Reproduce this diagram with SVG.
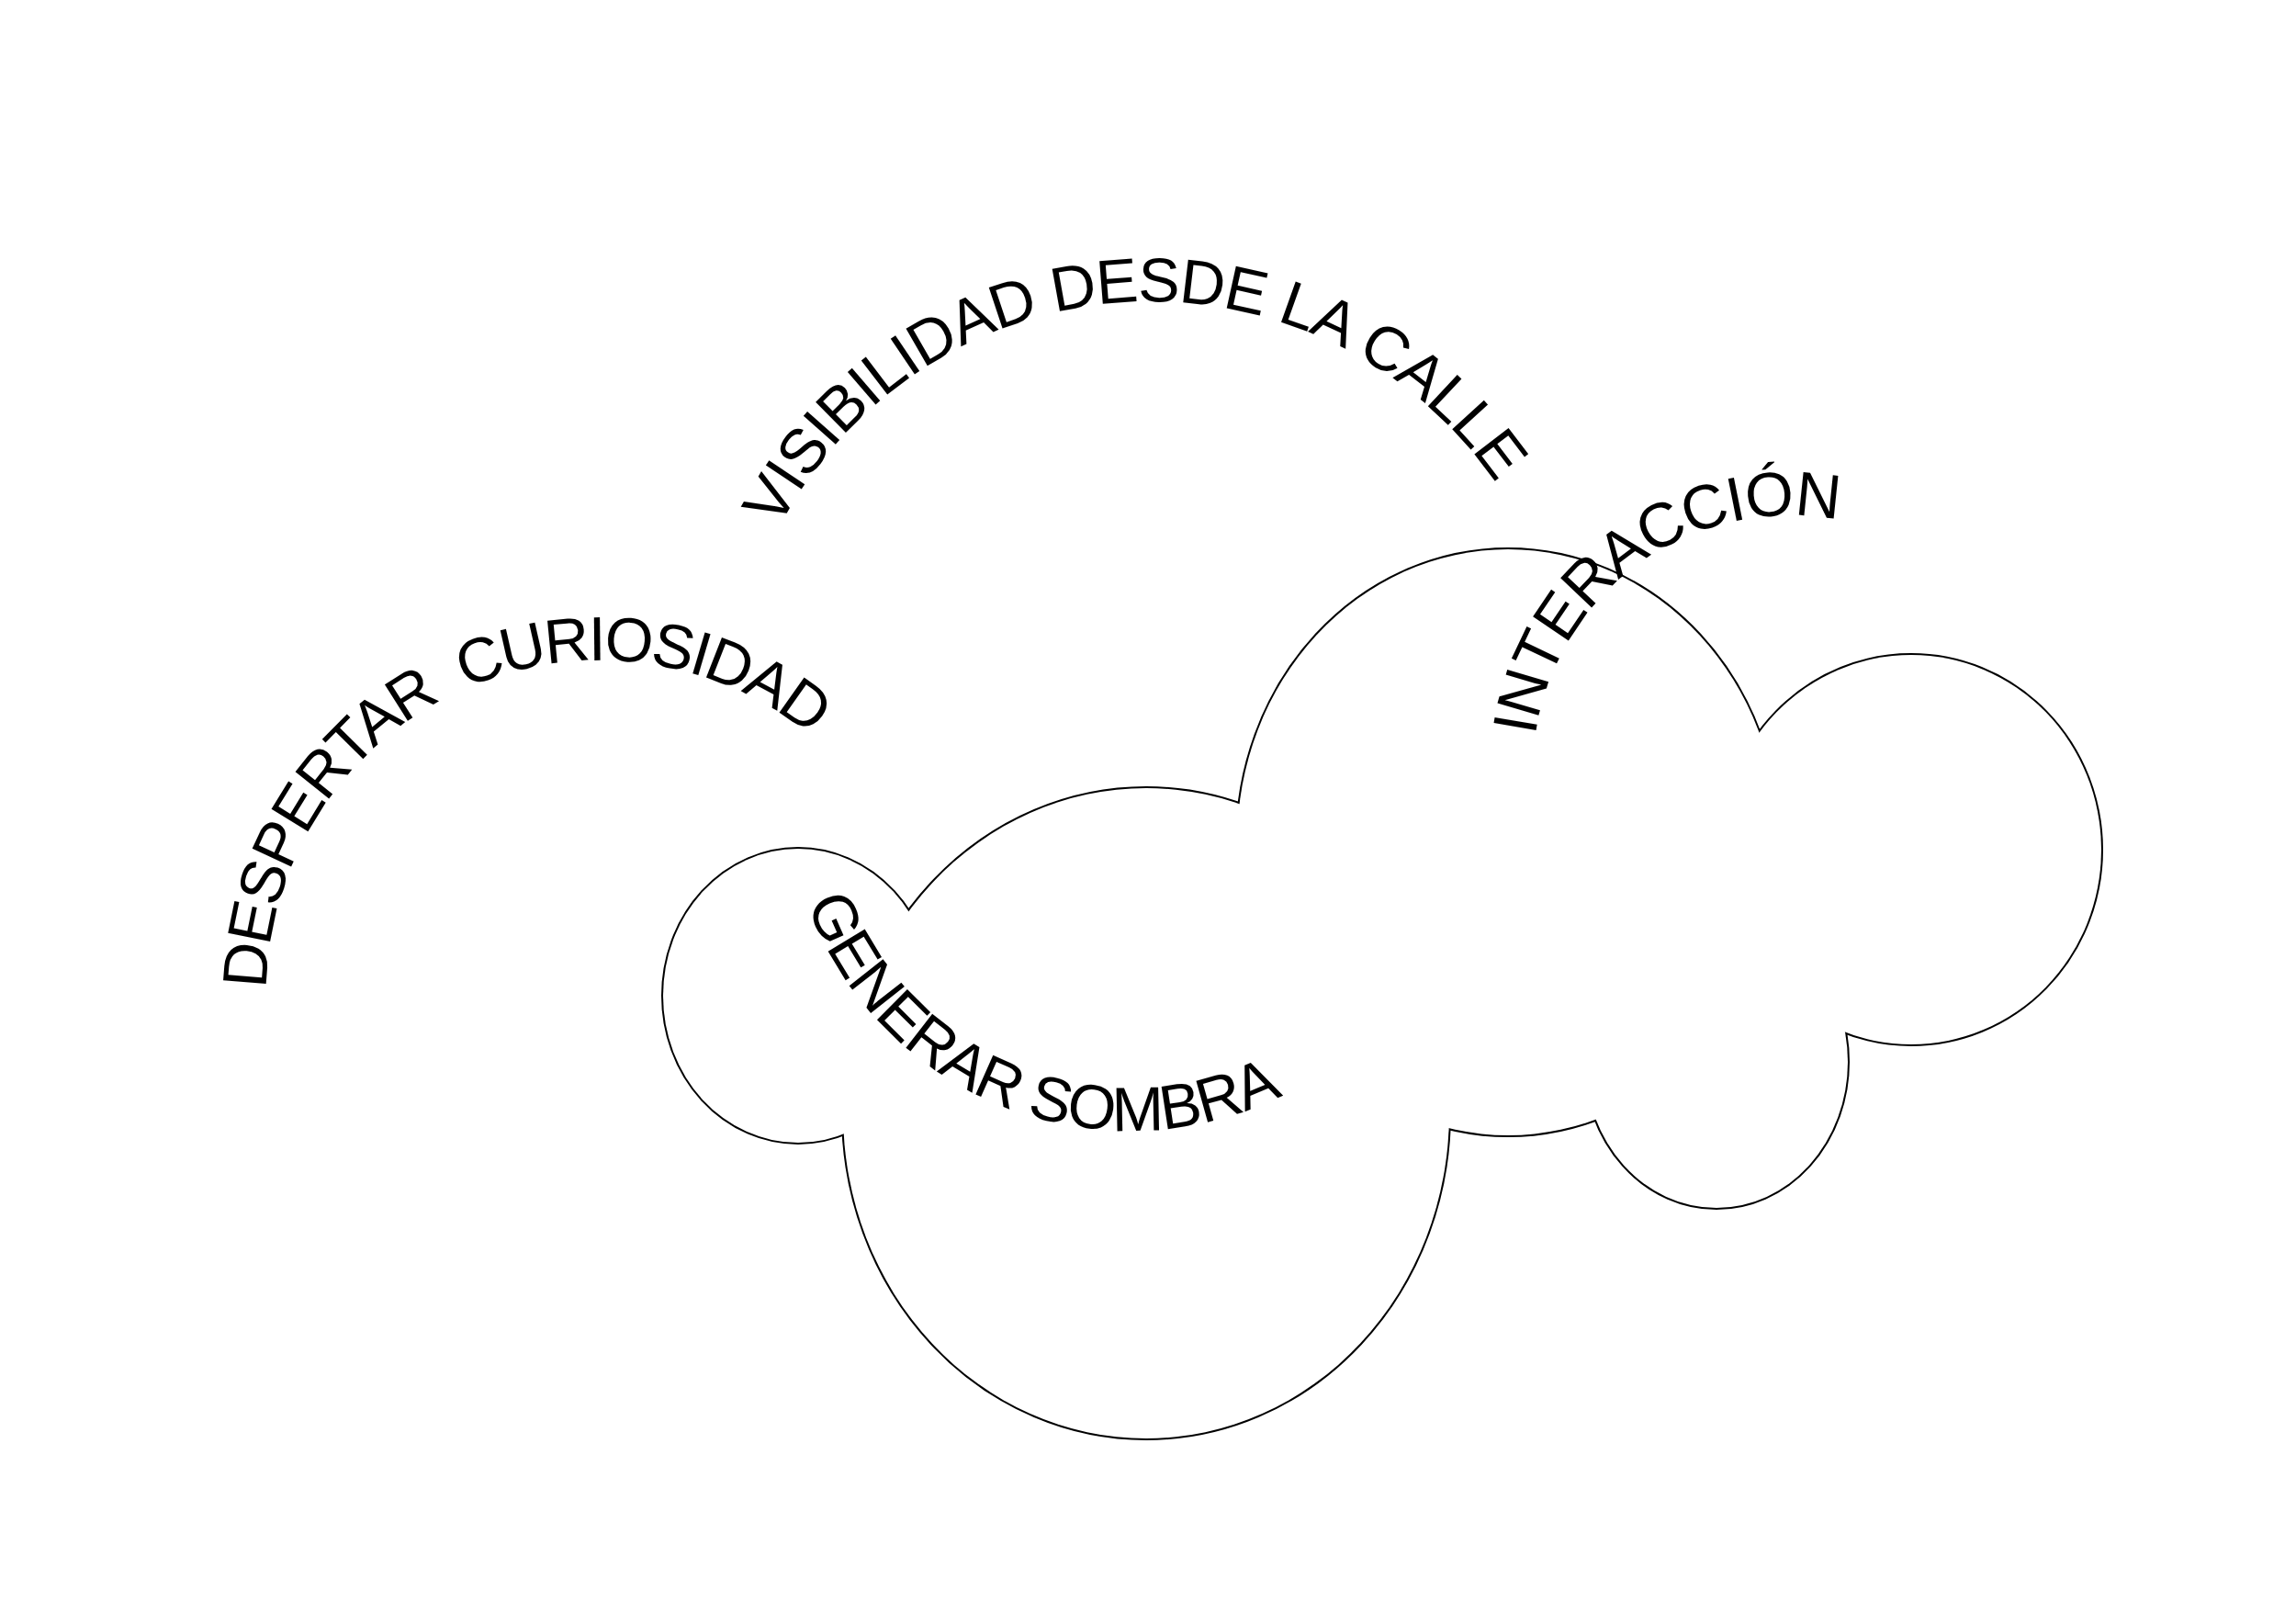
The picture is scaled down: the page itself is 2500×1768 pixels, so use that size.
<svg xmlns="http://www.w3.org/2000/svg" width="2500" height="1768" viewBox="0 0 2500 1768">
<style>
.lobe-line{fill:none;stroke:#000;stroke-width:4}
.lobe-fill{fill:#fff;stroke:none}
.lbl{font-family:"Liberation Sans",Arial,Helvetica,sans-serif;font-size:68px;fill:#000;letter-spacing:-1.5px}
</style>
<defs>
<path id="arcVis" d="M 799.8 734.0 A 456 456 0 0 1 1696.0 676.0"/>
<path id="arcDes" d="M 312.1 1206.7 A 363 363 0 0 1 967.1 900.0"/>
<path id="arcInt" d="M 1679.3 915.0 A 279 279 0 0 1 2105.6 609.8"/>
<path id="arcGen" d="M 864.2 778.0 A 375 375 0 0 0 1549.0 1054.7"/>
</defs>
<rect width="2500" height="1768" fill="#fff"/>
<g id="cloud">
<g class="lobe-line">
<ellipse cx="869" cy="1084" rx="147" ry="160"/>
<ellipse cx="1248" cy="1212" rx="330" ry="354"/>
<ellipse cx="1642" cy="917" rx="295" ry="319"/>
<ellipse cx="2081" cy="925" rx="207" ry="212"/>
<ellipse cx="1869" cy="1156" rx="143" ry="159"/>
</g>
<g class="lobe-fill">
<ellipse cx="869" cy="1084" rx="147" ry="160"/>
<ellipse cx="1248" cy="1212" rx="330" ry="354"/>
<ellipse cx="1642" cy="917" rx="295" ry="319"/>
<ellipse cx="2081" cy="925" rx="207" ry="212"/>
<ellipse cx="1869" cy="1156" rx="143" ry="159"/>
</g>
</g>
<g id="label-visibilidad"><text class="lbl" text-anchor="middle"><textPath href="#arcVis" startOffset="50%">VISIBILIDAD DESDE LA CALLE</textPath></text></g>
<g id="label-despertar"><text class="lbl" text-anchor="middle" xml:space="preserve" style="letter-spacing:-3px"><textPath href="#arcDes" startOffset="50%">DESPERTAR  CURIOSIDAD</textPath></text></g>
<g id="label-interaccion"><text class="lbl" text-anchor="middle"><textPath href="#arcInt" startOffset="50%">INTERACCIÓN</textPath></text></g>
<g id="label-generar"><text class="lbl" text-anchor="middle"><textPath href="#arcGen" startOffset="50%">GENERAR SOMBRA</textPath></text></g>
</svg>
